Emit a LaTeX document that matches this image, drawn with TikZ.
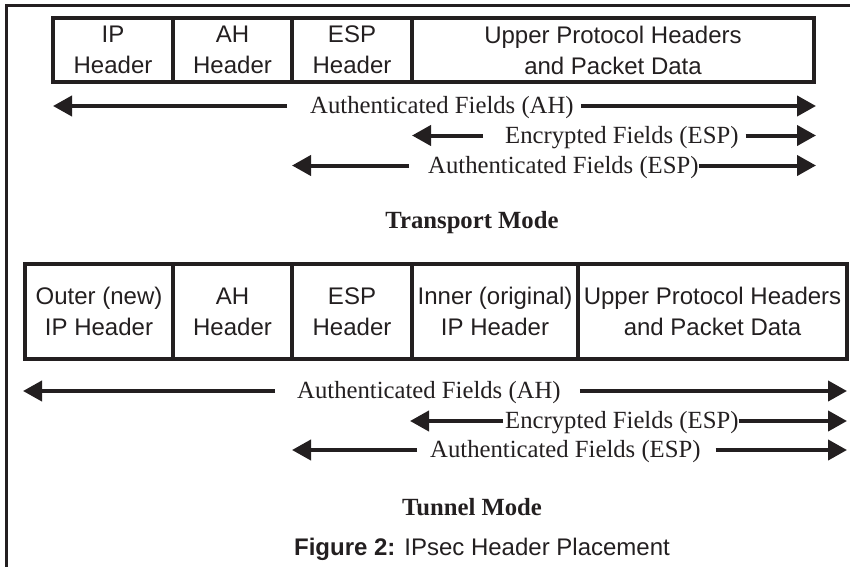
\documentclass[tikz,border=0pt]{standalone}
\usepackage{fontspec}
\setmainfont{Liberation Serif}
\setsansfont{Liberation Sans}
\usepackage{tikz}
\usetikzlibrary{positioning}
\usetikzlibrary{arrows.meta}
\definecolor{ink}{RGB}{35,31,32}

\begin{document}
\begin{tikzpicture}[x=1pt,y=-1pt,
cell/.style={draw=ink, line width=3.5pt, outer sep=0pt, inner sep=0pt,
  align=center, text=ink, font=\sffamily\fontsize{24}{31}\selectfont},
toprow/.style={cell, minimum height=64pt},
botrow/.style={cell, minimum height=95pt},
field/.style={inner sep=0pt, anchor=west, text=ink, text height=20pt,
  text depth=5pt, font=\fontsize{24.7}{30}\selectfont},
span/.style={draw=ink, line width=4pt, -{Triangle[length=19pt,width=20pt]}},
modetitle/.style={anchor=base, text=ink, font=\bfseries\fontsize{24.7}{30}\selectfont}]
\useasboundingbox (0,0) rectangle (850,567);
\draw[ink, line width=3pt] (850,5.5) -- (6,5.5) -- (6,567);

% transport mode
\node[toprow, minimum width=120pt, anchor=north west] (ip) at (53,18) {IP\\Header};
\node[toprow, minimum width=119pt, right=0pt of ip] (ah) {AH\\Header};
\node[toprow, minimum width=120pt, right=0pt of ah] (esp) {ESP\\Header};
\node[toprow, minimum width=402pt, right=0pt of esp] (up) {Upper Protocol Headers\\and Packet Data};

\node[field] (a1) at (310,106) {Authenticated Fields (AH)};
\node[field] (a2) at (505,135.5) {Encrypted Fields (ESP)};
\node[field] (a3) at (428,165.5) {Authenticated Fields (ESP)};
\draw[span] ([xshift=-23pt]a1.west) -- (a1.west -| ip.west);
\draw[span] ([xshift=7pt]a1.east) -- ([xshift=2pt]a1.east -| up.east);
\draw[span] ([xshift=-22pt]a2.west) -- (a2.west -| esp.east);
\draw[span] ([xshift=7pt]a2.east) -- ([xshift=2pt]a2.east -| up.east);
\draw[span] ([xshift=-19pt]a3.west) -- (a3.west -| ah.east);
\draw[span] (a3.east) -- ([xshift=2pt]a3.east -| up.east);

\node[modetitle] (transport) at (472,228) {Transport Mode};

% tunnel mode
\node[botrow, minimum width=148pt, anchor=north west] (outer) at (25,264) {Outer (new)\\IP Header};
\node[botrow, minimum width=119pt, right=0pt of outer] (ah2) {AH\\Header};
\node[botrow, minimum width=120pt, right=0pt of ah2] (esp2) {ESP\\Header};
\node[botrow, minimum width=166pt, right=0pt of esp2] (inner) {Inner (original)\\IP Header};
\node[botrow, minimum width=269pt, right=0pt of inner] (up2) {Upper Protocol Headers\\and Packet Data};

\node[field] (b1) at (297,391) {Authenticated Fields (AH)};
\node[field] (b2) at (505,421) {Encrypted Fields (ESP)};
\node[field] (b3) at (430,450) {Authenticated Fields (ESP)};
\draw[span] ([xshift=-22pt]b1.west) -- ([xshift=-2pt]b1.west -| outer.west);
\draw[span] ([xshift=19pt]b1.east) -- (b1.east -| up2.east);
\draw[span] ([xshift=-2pt]b2.west) -- ([xshift=-2pt]b2.west -| esp2.east);
\draw[span] (b2.east) -- (b2.east -| up2.east);
\draw[span] ([xshift=-13pt]b3.west) -- (b3.west -| ah2.east);
\draw[span] ([xshift=15pt]b3.east) -- (b3.east -| up2.east);

\node[modetitle] (tunnel) at (472,515) {Tunnel Mode};
\node[anchor=base, text=ink, font=\sffamily\fontsize{24}{30}\selectfont] (caption) at (482,555)
  {\textbf{Figure 2:} IPsec Header Placement};
\end{tikzpicture}
\end{document}
